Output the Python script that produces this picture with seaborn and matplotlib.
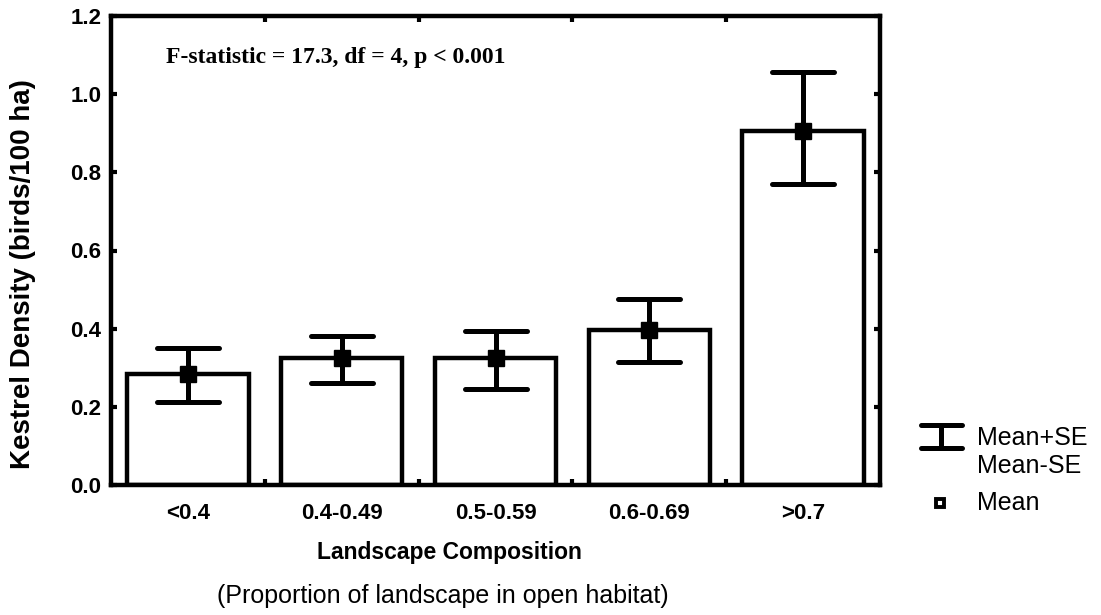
import matplotlib
matplotlib.use("Agg")
import matplotlib.pyplot as plt
import seaborn as sns
import numpy as np
from matplotlib.lines import Line2D
from matplotlib.markers import MarkerStyle

sns.set_theme(style="white")
plt.rcParams['font.family'] = ['Liberation Sans', 'DejaVu Sans']
plt.rcParams['text.color'] = 'black'
plt.rcParams['axes.labelcolor'] = 'black'
plt.rcParams['xtick.color'] = 'black'
plt.rcParams['ytick.color'] = 'black'

# ---- data ----
categories = ["<0.4", "0.4-0.49", "0.5-0.59", "0.6-0.69", ">0.7"]
means = [0.283, 0.326, 0.326, 0.397, 0.905]
upper_se = [0.351, 0.382, 0.393, 0.476, 1.056]
lower_se = [0.213, 0.261, 0.246, 0.314, 0.769]
yticks = [0.0, 0.2, 0.4, 0.6, 0.8, 1.0, 1.2]
stat_text = "F-statistic = 17.3, df = 4, p < 0.001"

W, H = 1101, 615
fig = plt.figure(figsize=(W / 100, H / 100), dpi=100)
ax = fig.add_axes([111 / W, (H - 485) / H, 769 / W, 469 / H])

sns.barplot(x=categories, y=means, ax=ax, color="white", edgecolor="black",
            linewidth=3.2, width=0.79, saturation=1)

xpos = np.arange(len(categories))
m = np.array(means)
yerr = [m - np.array(lower_se), np.array(upper_se) - m]
eb = ax.errorbar(xpos, m, yerr=yerr, fmt="none", ecolor="black", elinewidth=3.6,
                 capsize=22, capthick=3.6)
for cl in eb[1]:
    cl.set_marker(MarkerStyle("_", capstyle="round"))
for lc in eb[2]:
    lc.set_capstyle("butt")
ax.plot(xpos, m, "s", color="black", markersize=11.5, zorder=5)

ax.set_xlim(-0.5, 4.5)
ax.set_ylim(0, 1.2)
ax.set_yticks(yticks)
ax.set_yticklabels([f"{v:.1f}" for v in yticks])
ax.set_xticks(xpos)
ax.set_xticklabels(categories)
ax.set_xticks(np.arange(0.5, 4.5, 1.0), minor=True)
ax.set_xlabel("")
ax.set_ylabel("")

for s in ax.spines.values():
    s.set_visible(True)
    s.set_linewidth(3.2)
    s.set_color("black")

ax.tick_params(axis="y", which="major", direction="in", left=True, right=True,
               length=4, width=3, pad=7, labelsize=16, labelcolor="black")
ax.tick_params(axis="x", which="major", length=0, pad=13, labelsize=16,
               labelcolor="black")
ax.tick_params(axis="x", which="minor", direction="in", bottom=True, top=True,
               length=4, width=3)
for lab in ax.get_xticklabels() + ax.get_yticklabels():
    lab.set_fontweight("bold")

ax.text((166 - 111) / 769, 1 - (63 - 16) / 469, stat_text, transform=ax.transAxes,
        family=["Liberation Serif", "DejaVu Serif"], fontweight="bold",
        fontsize=17, ha="left", va="baseline", color="black")

# axis titles
fig.text(23 / W, 1 - 274 / H, "Kestrel Density (birds/100 ha)", rotation=90,
         ha="center", va="center", fontsize=20, fontweight="bold")
fig.text(449 / W, 1 - 552 / H, "Landscape Composition", ha="center",
         va="center", fontsize=16.5, fontweight="bold")
fig.text(443 / W, 1 - 596 / H, "(Proportion of landscape in open habitat)",
         ha="center", va="center", fontsize=18)

# legend
def fx(px):
    return px / W

def fy(py):
    return 1 - py / H

for yy in (425, 448):
    fig.add_artist(Line2D([fx(921), fx(962)], [fy(yy), fy(yy)], color="black",
                          lw=3.6, solid_capstyle="round", transform=fig.transFigure))
fig.add_artist(Line2D([fx(941), fx(941)], [fy(425), fy(448)], color="black",
                      lw=3.6, solid_capstyle="butt", transform=fig.transFigure))
fig.add_artist(Line2D([fx(940)], [fy(503)], marker="s", markersize=6,
                      markerfacecolor="white", markeredgecolor="black",
                      markeredgewidth=2.8, linestyle="none",
                      transform=fig.transFigure))
for txt, yb in (("Mean+SE", 445), ("Mean-SE", 473), ("Mean", 510)):
    fig.text(fx(977), fy(yb), txt, ha="left", va="baseline", fontsize=18,
             color="black")

fig.savefig("out.png", dpi=100, facecolor="white")
